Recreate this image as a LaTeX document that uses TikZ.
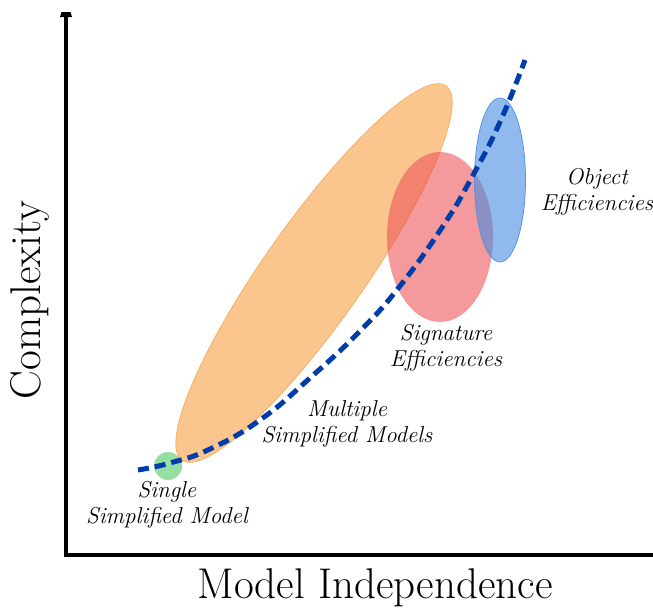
\documentclass[tikz,border=0pt]{standalone}
\usetikzlibrary{arrows.meta}
\definecolor{orfill}{RGB}{247,160,65}
\definecolor{ordraw}{RGB}{245,165,80}
\definecolor{rdfill}{RGB}{236,85,90}
\definecolor{blfill}{RGB}{70,140,225}
\definecolor{bldraw}{RGB}{75,145,230}
\definecolor{grfill}{RGB}{80,200,100}
\definecolor{curveblue}{RGB}{0,60,170}
\tikzset{
  lbl/.style={inner sep=0pt, align=center, font=\fontsize{23}{26}\selectfont\itshape},
  axlbl/.style={inner sep=0pt, font=\fontsize{43}{48}\selectfont},
  axis/.style={line width=4pt},
  region/.style={fill opacity=0.6}
}
\begin{document}
\begin{tikzpicture}[x=1pt,y=-1pt]
\useasboundingbox (0,0) rectangle (653,613);
% regions
\fill[region, fill=orfill, draw=ordraw, draw opacity=0.8, line width=0.8pt, rotate around={54.8:(314,273)}] (314,273) ellipse [x radius=229, y radius=50];
\fill[region, fill=rdfill] (440,237) ellipse [x radius=53, y radius=85];
\fill[region, fill=blfill, draw=bldraw, draw opacity=0.9, line width=0.8pt] (500,180) ellipse [x radius=25.5, y radius=82];
\fill[region, fill=grfill] (168,466) circle [radius=14];
% curve
\draw[curveblue, line width=5pt, dash pattern=on 11pt off 6pt]
  plot[smooth, tension=0.8] coordinates {(138,470) (170,463) (210,449) (260,420) (310,378) (360,331) (400,286) (443,226) (472,177) (500,122) (525,60)};
% axes
\coordinate (origin) at (66,554.5);
\coordinate (ytop) at (66,12);
\coordinate (xend) at (653,554.5);
\draw[axis] (xend) -- (origin) -- (ytop);
\fill (60,17) -- (72,17) -- (70.5,12) -- (61.5,12) -- cycle;
% labels
\node[axlbl, rotate=90] (ylab) at (30,300) {Complexity};
\node[axlbl] (xlab) at (375,588) {Model Independence};
\node[lbl] (single) at (167,505) {Single\\Simplified Model};
\node[lbl] (multi) at (347,424) {Multiple\\Simplified Models};
\node[lbl] (sig) at (446,348) {Signature\\Efficiencies};
\node[lbl] (obj) at (597,192) {Object\\Efficiencies};
\end{tikzpicture}
\end{document}
